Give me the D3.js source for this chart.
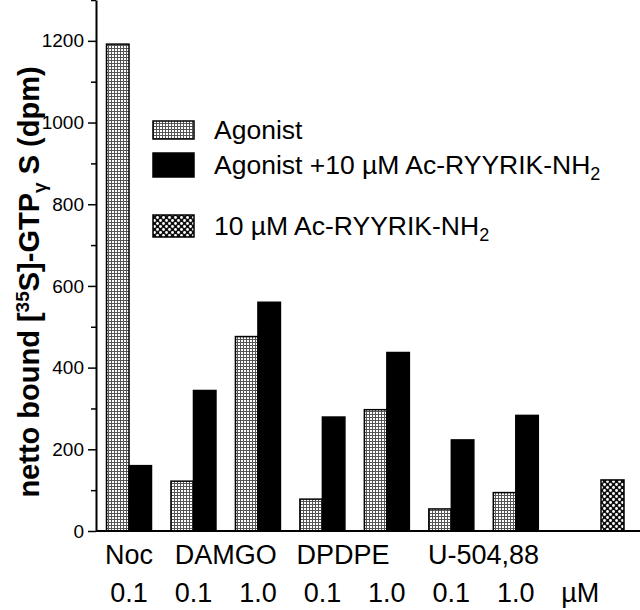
<!DOCTYPE html>
<meta charset="utf-8">
<script src="https://d3js.org/d3.v7.min.js"></script>
<style>
    body { margin: 0; background: #fff; }
    text { font-family: "Liberation Sans", Arial, sans-serif; fill: #000; }
</style>
<div id="chart"></div>
<script>
    // data
    var groups = ["Noc", "DAMGO", "DPDPE", "U-504,88"];
    var groupPos = [0, 1.5, 3.32, 5.5];
    var doses = ["0.1", "0.1", "1.0", "0.1", "1.0", "0.1", "1.0", "\u00b5M"];
    var agonist = [1192, 122, 476, 78, 297, 54, 94];
    var withPeptide = [160, 344, 560, 279, 437, 223, 283];
    var peptideAlone = [125];
    var majorTicks = [0, 200, 400, 600, 800, 1000, 1200];
    var minorTicks = [100, 300, 500, 700, 900, 1100, 1300];

    var width = 640, height = 610;

    var svg = d3.select("#chart")
        .append("svg")
        .attr("width", width)
        .attr("height", height);

    // patterns for the bar fills
    var defs = svg.append("defs");
    var grid = defs.append("pattern")
        .attr("id", "grid")
        .attr("width", 3).attr("height", 3)
        .attr("patternUnits", "userSpaceOnUse");
    grid.append("rect").attr("width", 3).attr("height", 3).attr("fill", "#fff");
    grid.append("rect").attr("width", 3).attr("height", 1).attr("fill", "#555");
    grid.append("rect").attr("width", 1).attr("height", 3).attr("fill", "#555");

    var dots = defs.append("pattern")
        .attr("id", "dots")
        .attr("width", 6).attr("height", 6)
        .attr("patternUnits", "userSpaceOnUse");
    dots.append("rect").attr("width", 6).attr("height", 6).attr("fill", "#111");
    dots.append("circle").attr("cx", 1.5).attr("cy", 1.5).attr("r", 1.4).attr("fill", "#fff");
    dots.append("circle").attr("cx", 4.5).attr("cy", 4.5).attr("r", 1.4).attr("fill", "#fff");

    // scales
    var x = d3.scaleLinear().domain([0, 7.5]).range([129, 612.5]);
    var y = d3.scaleLinear().domain([0, 1300]).range([531, 0]);
    var bw = 22.5;

    // bars
    svg.selectAll(".ago")
        .data(agonist)
        .enter().append("rect")
        .attr("x", function(d, i) { return x(i) - bw; })
        .attr("y", function(d) { return y(d); })
        .attr("width", bw)
        .attr("height", function(d) { return y(0) - y(d); })
        .attr("fill", "url(#grid)")
        .attr("stroke", "#000")
        .attr("stroke-width", 1.5);

    svg.selectAll(".pep")
        .data(withPeptide)
        .enter().append("rect")
        .attr("x", function(d, i) { return x(i); })
        .attr("y", function(d) { return y(d); })
        .attr("width", bw)
        .attr("height", function(d) { return y(0) - y(d); })
        .attr("fill", "#000")
        .attr("stroke", "#000")
        .attr("stroke-width", 1.5);

    svg.selectAll(".alone")
        .data(peptideAlone)
        .enter().append("rect")
        .attr("x", x(7.5) - 11.5)
        .attr("y", function(d) { return y(d); })
        .attr("width", 23)
        .attr("height", function(d) { return y(0) - y(d); })
        .attr("fill", "url(#dots)")
        .attr("stroke", "#000")
        .attr("stroke-width", 1.5);

    // y axis
    var yAxis = svg.append("g")
        .attr("transform", "translate(96,0)")
        .call(d3.axisLeft(y).tickValues(majorTicks).tickFormat(d3.format("d"))
            .tickSize(8).tickSizeOuter(0).tickPadding(4));
    yAxis.select(".domain").attr("stroke-width", 2);
    yAxis.selectAll(".tick line").attr("stroke-width", 1.5);
    yAxis.selectAll(".tick text")
        .style("font-size", "19px")
        .style("font-family", "Liberation Sans, Arial, sans-serif");

    var yMinor = svg.append("g")
        .attr("transform", "translate(96,0)")
        .call(d3.axisLeft(y).tickValues(minorTicks).tickSize(5).tickFormat(""));
    yMinor.select(".domain").remove();
    yMinor.selectAll(".tick line").attr("stroke-width", 1.5);

    // baseline
    svg.append("line")
        .attr("x1", 96).attr("x2", 640)
        .attr("y1", y(0)).attr("y2", y(0))
        .attr("stroke", "#000")
        .attr("stroke-width", 2);

    // y title
    var yt = svg.append("text")
        .attr("transform", "translate(39," + 282 + ") rotate(-90)")
        .attr("text-anchor", "middle")
        .style("font-size", "29px")
        .style("font-weight", "bold");
    yt.append("tspan").text("netto bound [");
    yt.append("tspan").attr("dy", -10).style("font-size", "19px").text("35");
    yt.append("tspan").attr("dy", 10).text("S]-GTP");
    yt.append("tspan").attr("dy", 7).style("font-size", "19px").text("\u03b3");
    yt.append("tspan").attr("dy", -7).text(" S (dpm)");

    // x labels
    svg.selectAll(".grp")
        .data(groups)
        .enter().append("text")
        .attr("x", function(d, i) { return x(groupPos[i]); })
        .attr("y", 564)
        .attr("text-anchor", "middle")
        .style("font-size", "27px")
        .text(function(d) { return d; });

    svg.selectAll(".dose")
        .data(doses)
        .enter().append("text")
        .attr("x", function(d, i) { return x(i); })
        .attr("y", 602)
        .attr("text-anchor", "middle")
        .style("font-size", "27px")
        .text(function(d) { return d; });

    // legend
    var legend = [
        {fill: "url(#grid)", top: 121, h: 18, label: "Agonist"},
        {fill: "#000", top: 153, h: 24, label: "Agonist +10 \u00b5M Ac-RYYRIK-NH", sub: "2"},
        {fill: "url(#dots)", top: 215, h: 22, label: "10 \u00b5M Ac-RYYRIK-NH", sub: "2"}
    ];
    var lg = svg.selectAll(".lg")
        .data(legend)
        .enter().append("g");
    lg.append("rect")
        .attr("x", 153).attr("width", 41)
        .attr("y", function(d) { return d.top; })
        .attr("height", function(d) { return d.h; })
        .attr("fill", function(d) { return d.fill; })
        .attr("stroke", "#000")
        .attr("stroke-width", 1.5);
    var lt = lg.append("text")
        .attr("x", 214)
        .attr("y", function(d) { return d.top + d.h / 2 + 9; })
        .style("font-size", "26.5px");
    lt.append("tspan").text(function(d) { return d.label; });
    lt.append("tspan")
        .attr("dy", 6)
        .style("font-size", "18px")
        .text(function(d) { return d.sub || ""; });
</script>
